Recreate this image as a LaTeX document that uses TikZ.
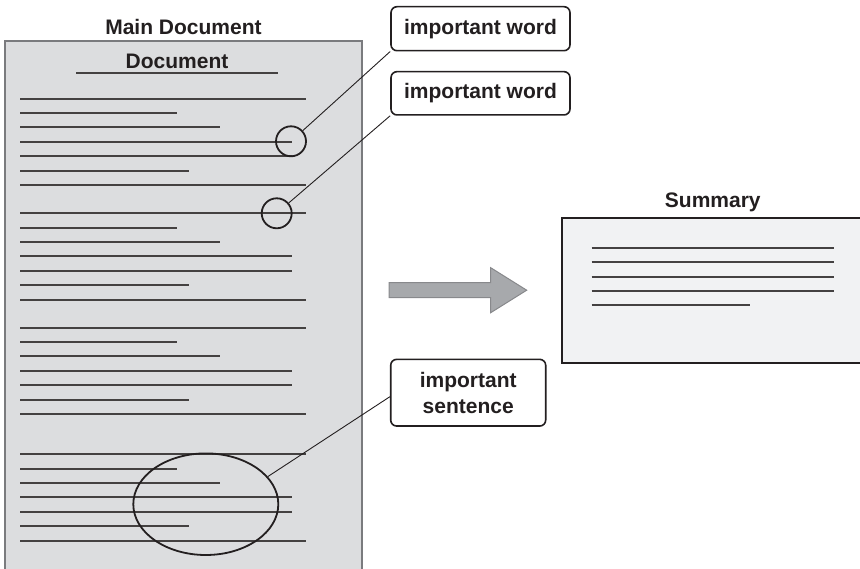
\documentclass[tikz,border=0pt]{standalone}
\usepackage{fontspec}
\setmainfont{Liberation Sans}
\usetikzlibrary{shapes.geometric}

\definecolor{ink}{HTML}{231F20}
\definecolor{pagefill}{HTML}{DCDDDF}
\definecolor{pageedge}{HTML}{7A7B7E}
\definecolor{sumfill}{HTML}{F1F2F3}
\definecolor{arrowfill}{HTML}{A7A9AC}
\definecolor{arrowedge}{HTML}{88898C}

\tikzset{
  heading/.style={font=\fontsize{21}{25.7}\selectfont\bfseries, text=ink, inner sep=0pt},
  callout/.style={heading, draw=ink, line width=1.6pt, rounded corners=6pt, fill=white, align=center},
  textline/.style={draw=ink!85, line width=1.6pt},
  hilite/.style={draw=ink, line width=1.8pt},
  leader/.style={draw=ink, line width=0.9pt},
}

\begin{document}
\begin{tikzpicture}[x=1pt, y=-1pt]
\useasboundingbox (0,0) rectangle (860,569);
\clip (0,0) rectangle (860,569);

% main document page
\draw[fill=pagefill, draw=pageedge, line width=1.8pt] (5,41) rectangle (362,590);
\node[heading, anchor=base] (maintitle) at (183.5,35) {Main Document};
\node[heading, anchor=base] (doctitle) at (177,68.3) {Document};
\draw[textline] (76,73) -- (278,73);

% body text lines, four paragraphs, snapped to whole units
\foreach \py in {98.7,213.3,327.7,454.3} {
  \foreach \ex [count=\i from 0] in {306,177,220,292,292,189,306} {
    \pgfmathsetmacro{\ly}{round(\py+14.4*\i)}
    \draw[textline] (20,\ly) -- (\ex,\ly);
  }
}

% highlighted words and sentence
\node[hilite, circle, minimum size=30pt, inner sep=0pt] (w1mark) at (291,141.3) {};
\node[hilite, circle, minimum size=30pt, inner sep=0pt] (w2mark) at (276.7,213.3) {};
\node[hilite, ellipse, minimum width=145pt, minimum height=101.6pt, inner sep=0pt] (smark) at (205.8,504.2) {};

% callouts
\node[callout, minimum width=179pt, minimum height=44pt] (w1) at (480.5,28.7) {important word};
\node[callout, minimum width=179pt, minimum height=43.3pt] (w2) at (480.5,93.3) {important word};
\node[callout, minimum width=155pt, minimum height=66.7pt] (s) at (468.2,392.7) {important\\sentence};

\draw[leader] (w1mark) -- (w1.south west);
\draw[leader] (w2mark) -- (w2.south west);
\draw[leader] (smark.24) -- (s.west |- 0,396.7);

% transformation arrow
\draw[fill=arrowfill, draw=arrowedge, line width=1pt]
  (389,282.7) -- (490.7,282.7) -- (490.7,267.7) -- (526.7,290.2)
  -- (490.7,312.7) -- (490.7,297.7) -- (389,297.7) -- cycle;

% summary page
\node[heading, anchor=base] (sumtitle) at (712.8,207.3) {Summary};
\draw[fill=sumfill, draw=ink, line width=1.8pt] (562.3,217.7) rectangle (875,362.7);
\foreach \y in {248,262,277,291} {
  \draw[textline] (591.7,\y) -- (834.3,\y);
}
\draw[textline] (591.7,305) -- (750,305);
\end{tikzpicture}
\end{document}
